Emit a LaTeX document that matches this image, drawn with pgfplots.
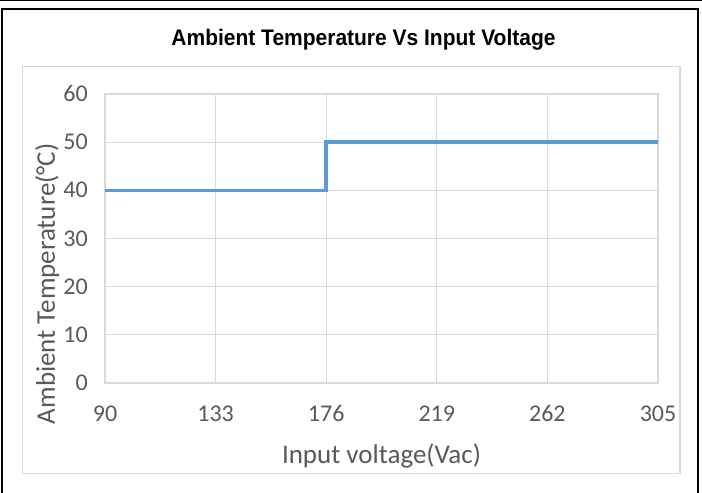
\documentclass[border=0pt]{standalone}
\usepackage{fontspec}
\setmainfont{Carlito}
\newfontfamily\titlefont{Liberation Sans}
\usepackage{pgfplots}
\pgfplotsset{compat=1.18}
\definecolor{linblue}{HTML}{5B9BD5}
\definecolor{gridgray}{HTML}{D9D9D9}
\definecolor{txtgray}{HTML}{595959}
\begin{document}
\begin{tikzpicture}[x=1pt,y=1pt]
\path[use as bounding box] (0,0) rectangle (702,493);
\draw[line width=1.5pt] (0,492.4) -- (702,492.4);
\draw[line width=2pt] (2,-5) -- (2,484) -- (698,484) -- (698,-5);
\draw[gridgray, line width=1.3pt] (22.5,19.5) rectangle (680,426.5);
\node[font=\titlefont\bfseries\fontsize{22.5}{26}\selectfont, inner sep=0pt, xscale=0.933] at (363.5,453) {Ambient Temperature Vs Input Voltage};
\begin{axis}[
 at={(105pt,110pt)}, anchor=south west,
 scale only axis, width=553pt, height=289pt,
 xmin=90, xmax=305, ymin=0, ymax=60,
 xtick={90,133,176,219,262,305}, ytick={0,10,20,30,40,50,60},
 grid=major, grid style={gridgray, line width=1.1pt},
 axis line style={gridgray, line width=1.1pt},
 tick style={draw=none},
 /pgf/number format/assume math mode=true,
 ticklabel style={font=\fontsize{24}{28}\selectfont, text=txtgray, inner sep=0pt, text height=15pt, text depth=0pt},
 xticklabel style={anchor=center, yshift=-31pt},
 yticklabel style={anchor=east, xshift=-17pt},
 xlabel={Input voltage(Vac)}, ylabel={Ambient Temperature(°C)},
 label style={font=\fontsize{27}{31}\selectfont, text=txtgray, inner sep=0pt},
 xlabel style={at={(axis description cs:0.5,-0.2526)}, anchor=center},
 ylabel style={at={(axis description cs:-0.1045,0.343)}, anchor=center},
]
\addplot[linblue, line width=3.5pt, const plot] coordinates {(90,40) (176,50) (305,50)};
\end{axis}
\end{tikzpicture}
\end{document}
